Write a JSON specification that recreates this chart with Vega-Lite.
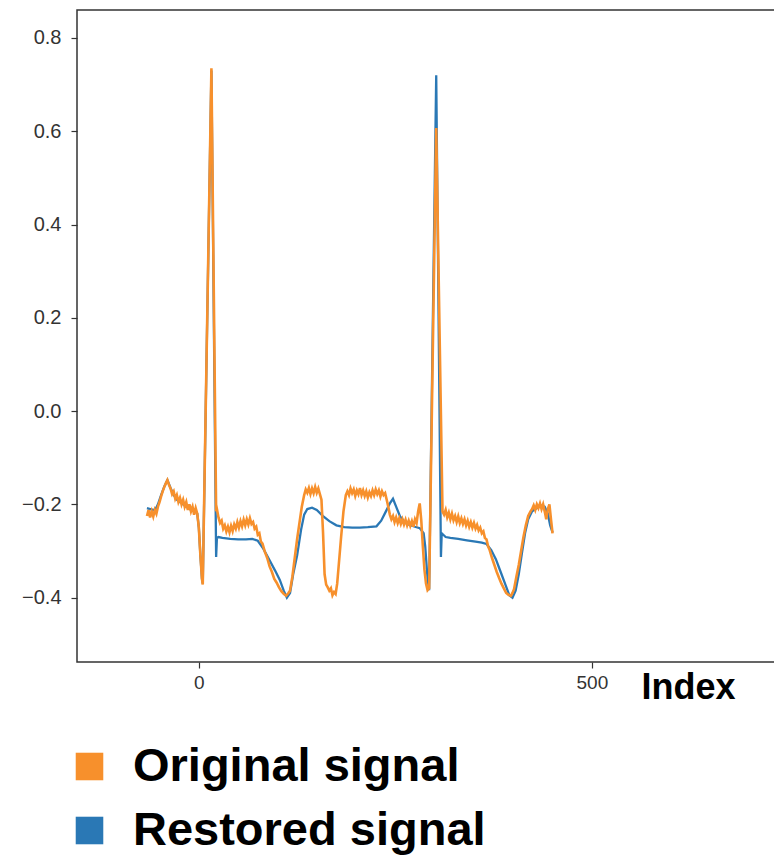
{
  "$schema": "https://vega.github.io/schema/vega-lite/v6.json",
  "autosize": "none",
  "padding": {"left": 77, "top": 10, "right": 0, "bottom": 196},
  "width": 698,
  "height": 652,
  "background": "white",
  "config": {
    "view": {"stroke": "#333333", "strokeWidth": 1.5},
    "axis": {"grid": false, "domain": false, "labelFont": "Liberation Sans", "labelFontSize": 20, "labelColor": "#333333", "tickColor": "#333333", "tickSize": 6, "tickWidth": 1.2}
  },
  "datasets": {
    "orig": [
      {"i":-66,"v":-0.225},{"i":-64,"v":-0.212},{"i":-62,"v":-0.228},{"i":-60,"v":-0.215},{"i":-58,"v":-0.226},{"i":-56,"v":-0.212},{"i":-54,"v":-0.22},{"i":-52,"v":-0.205},{"i":-50,"v":-0.195},{"i":-48,"v":-0.183},{"i":-46,"v":-0.172},{"i":-44,"v":-0.163},{"i":-42,"v":-0.155},{"i":-40,"v":-0.148},{"i":-38,"v":-0.158},{"i":-36,"v":-0.166},{"i":-34,"v":-0.178},{"i":-32,"v":-0.172},{"i":-30,"v":-0.188},{"i":-28,"v":-0.18},{"i":-26,"v":-0.195},{"i":-24,"v":-0.186},{"i":-22,"v":-0.2},{"i":-20,"v":-0.19},{"i":-18,"v":-0.205},{"i":-16,"v":-0.195},{"i":-14,"v":-0.212},{"i":-12,"v":-0.2},{"i":-10,"v":-0.215},{"i":-8,"v":-0.205},{"i":-6,"v":-0.222},{"i":-4,"v":-0.208},{"i":-2,"v":-0.22},{"i":0,"v":-0.25},{"i":2,"v":-0.31},{"i":4,"v":-0.36},{"i":5,"v":-0.372},{"i":16,"v":0.735},{"i":22,"v":-0.215},{"i":23,"v":-0.21},{"i":25,"v":-0.228},{"i":27,"v":-0.24},{"i":29,"v":-0.235},{"i":31,"v":-0.252},{"i":33,"v":-0.245},{"i":35,"v":-0.258},{"i":37,"v":-0.248},{"i":39,"v":-0.26},{"i":41,"v":-0.246},{"i":43,"v":-0.257},{"i":45,"v":-0.243},{"i":47,"v":-0.252},{"i":49,"v":-0.238},{"i":51,"v":-0.25},{"i":53,"v":-0.236},{"i":55,"v":-0.247},{"i":57,"v":-0.233},{"i":59,"v":-0.245},{"i":61,"v":-0.232},{"i":63,"v":-0.243},{"i":65,"v":-0.23},{"i":67,"v":-0.242},{"i":69,"v":-0.238},{"i":71,"v":-0.252},{"i":73,"v":-0.248},{"i":75,"v":-0.265},{"i":77,"v":-0.262},{"i":79,"v":-0.28},{"i":81,"v":-0.284},{"i":84,"v":-0.302},{"i":87,"v":-0.315},{"i":90,"v":-0.333},{"i":93,"v":-0.345},{"i":96,"v":-0.36},{"i":99,"v":-0.368},{"i":102,"v":-0.378},{"i":105,"v":-0.386},{"i":108,"v":-0.392},{"i":111,"v":-0.396},{"i":114,"v":-0.39},{"i":116,"v":-0.385},{"i":119,"v":-0.355},{"i":122,"v":-0.315},{"i":125,"v":-0.275},{"i":128,"v":-0.24},{"i":131,"v":-0.205},{"i":134,"v":-0.18},{"i":136,"v":-0.168},{"i":138,"v":-0.175},{"i":140,"v":-0.165},{"i":142,"v":-0.178},{"i":144,"v":-0.166},{"i":146,"v":-0.176},{"i":148,"v":-0.163},{"i":150,"v":-0.175},{"i":152,"v":-0.166},{"i":154,"v":-0.178},{"i":156,"v":-0.19},{"i":158,"v":-0.26},{"i":160,"v":-0.35},{"i":162,"v":-0.372},{"i":164,"v":-0.378},{"i":166,"v":-0.385},{"i":168,"v":-0.38},{"i":170,"v":-0.395},{"i":172,"v":-0.388},{"i":174,"v":-0.392},{"i":176,"v":-0.37},{"i":178,"v":-0.33},{"i":181,"v":-0.27},{"i":184,"v":-0.215},{"i":187,"v":-0.18},{"i":189,"v":-0.172},{"i":191,"v":-0.18},{"i":193,"v":-0.166},{"i":195,"v":-0.176},{"i":197,"v":-0.168},{"i":199,"v":-0.182},{"i":201,"v":-0.17},{"i":203,"v":-0.178},{"i":205,"v":-0.165},{"i":207,"v":-0.18},{"i":209,"v":-0.17},{"i":211,"v":-0.182},{"i":213,"v":-0.172},{"i":215,"v":-0.185},{"i":217,"v":-0.174},{"i":219,"v":-0.182},{"i":221,"v":-0.17},{"i":223,"v":-0.18},{"i":225,"v":-0.168},{"i":227,"v":-0.178},{"i":229,"v":-0.17},{"i":231,"v":-0.183},{"i":233,"v":-0.172},{"i":235,"v":-0.18},{"i":237,"v":-0.176},{"i":239,"v":-0.19},{"i":241,"v":-0.205},{"i":243,"v":-0.222},{"i":245,"v":-0.232},{"i":247,"v":-0.225},{"i":249,"v":-0.238},{"i":251,"v":-0.228},{"i":253,"v":-0.24},{"i":255,"v":-0.23},{"i":257,"v":-0.242},{"i":259,"v":-0.232},{"i":261,"v":-0.243},{"i":263,"v":-0.233},{"i":265,"v":-0.245},{"i":267,"v":-0.235},{"i":269,"v":-0.246},{"i":271,"v":-0.236},{"i":273,"v":-0.248},{"i":275,"v":-0.232},{"i":277,"v":-0.24},{"i":279,"v":-0.215},{"i":281,"v":-0.198},{"i":283,"v":-0.235},{"i":285,"v":-0.29},{"i":287,"v":-0.34},{"i":289,"v":-0.37},{"i":291,"v":-0.384},{"i":293,"v":-0.38},{"i":302,"v":0.607},{"i":310,"v":-0.215},{"i":312,"v":-0.222},{"i":314,"v":-0.212},{"i":316,"v":-0.228},{"i":318,"v":-0.218},{"i":320,"v":-0.232},{"i":322,"v":-0.22},{"i":324,"v":-0.234},{"i":326,"v":-0.225},{"i":328,"v":-0.238},{"i":330,"v":-0.226},{"i":332,"v":-0.24},{"i":334,"v":-0.23},{"i":336,"v":-0.242},{"i":338,"v":-0.232},{"i":340,"v":-0.245},{"i":342,"v":-0.235},{"i":344,"v":-0.248},{"i":346,"v":-0.238},{"i":348,"v":-0.25},{"i":350,"v":-0.24},{"i":352,"v":-0.252},{"i":354,"v":-0.244},{"i":356,"v":-0.256},{"i":358,"v":-0.25},{"i":360,"v":-0.262},{"i":362,"v":-0.258},{"i":364,"v":-0.272},{"i":366,"v":-0.275},{"i":368,"v":-0.29},{"i":370,"v":-0.298},{"i":373,"v":-0.315},{"i":376,"v":-0.33},{"i":379,"v":-0.345},{"i":382,"v":-0.358},{"i":385,"v":-0.37},{"i":388,"v":-0.38},{"i":391,"v":-0.39},{"i":394,"v":-0.394},{"i":397,"v":-0.396},{"i":399,"v":-0.39},{"i":401,"v":-0.382},{"i":404,"v":-0.355},{"i":407,"v":-0.33},{"i":410,"v":-0.3},{"i":413,"v":-0.27},{"i":416,"v":-0.245},{"i":419,"v":-0.225},{"i":422,"v":-0.215},{"i":424,"v":-0.21},{"i":426,"v":-0.202},{"i":428,"v":-0.212},{"i":430,"v":-0.2},{"i":432,"v":-0.208},{"i":434,"v":-0.198},{"i":436,"v":-0.21},{"i":438,"v":-0.2},{"i":440,"v":-0.215},{"i":442,"v":-0.232},{"i":444,"v":-0.21},{"i":446,"v":-0.2},{"i":448,"v":-0.232},{"i":450,"v":-0.262}
    ],
    "rest": [
      {"i":-66,"v":-0.208},{"i":-62,"v":-0.21},{"i":-58,"v":-0.212},{"i":-55,"v":-0.21},{"i":-52,"v":-0.2},{"i":-48,"v":-0.18},{"i":-44,"v":-0.162},{"i":-40,"v":-0.148},{"i":-36,"v":-0.165},{"i":-32,"v":-0.18},{"i":-28,"v":-0.19},{"i":-24,"v":-0.195},{"i":-20,"v":-0.2},{"i":-16,"v":-0.205},{"i":-12,"v":-0.21},{"i":-8,"v":-0.213},{"i":-4,"v":-0.215},{"i":-2,"v":-0.22},{"i":0,"v":-0.25},{"i":2,"v":-0.31},{"i":4,"v":-0.36},{"i":5,"v":-0.37},{"i":16,"v":0.73},{"i":22,"v":-0.313},{"i":23,"v":-0.272},{"i":25,"v":-0.27},{"i":30,"v":-0.272},{"i":40,"v":-0.274},{"i":50,"v":-0.275},{"i":60,"v":-0.275},{"i":68,"v":-0.274},{"i":75,"v":-0.278},{"i":82,"v":-0.295},{"i":90,"v":-0.32},{"i":97,"v":-0.342},{"i":103,"v":-0.362},{"i":108,"v":-0.385},{"i":112,"v":-0.4},{"i":116,"v":-0.39},{"i":120,"v":-0.35},{"i":125,"v":-0.31},{"i":130,"v":-0.255},{"i":134,"v":-0.222},{"i":138,"v":-0.21},{"i":144,"v":-0.207},{"i":150,"v":-0.212},{"i":158,"v":-0.225},{"i":166,"v":-0.236},{"i":175,"v":-0.245},{"i":185,"v":-0.249},{"i":195,"v":-0.25},{"i":205,"v":-0.25},{"i":215,"v":-0.249},{"i":226,"v":-0.247},{"i":232,"v":-0.235},{"i":238,"v":-0.215},{"i":243,"v":-0.198},{"i":247,"v":-0.188},{"i":251,"v":-0.205},{"i":256,"v":-0.226},{"i":262,"v":-0.238},{"i":268,"v":-0.244},{"i":275,"v":-0.248},{"i":281,"v":-0.251},{"i":286,"v":-0.262},{"i":288,"v":-0.29},{"i":291,"v":-0.36},{"i":293,"v":-0.384},{"i":302,"v":0.72},{"i":308,"v":-0.313},{"i":309,"v":-0.262},{"i":314,"v":-0.27},{"i":320,"v":-0.272},{"i":330,"v":-0.274},{"i":341,"v":-0.277},{"i":352,"v":-0.28},{"i":360,"v":-0.282},{"i":366,"v":-0.285},{"i":372,"v":-0.298},{"i":378,"v":-0.318},{"i":384,"v":-0.345},{"i":390,"v":-0.372},{"i":395,"v":-0.395},{"i":399,"v":-0.4},{"i":403,"v":-0.385},{"i":407,"v":-0.35},{"i":411,"v":-0.305},{"i":415,"v":-0.262},{"i":419,"v":-0.232},{"i":424,"v":-0.215},{"i":430,"v":-0.208},{"i":436,"v":-0.203},{"i":440,"v":-0.205},{"i":444,"v":-0.22},{"i":447,"v":-0.245},{"i":450,"v":-0.26}
    ]
  },
  "encoding": {
    "x": {
      "field": "i", "type": "quantitative",
      "scale": {"domain": [-155, 733], "nice": false, "zero": false},
      "axis": {"values": [0, 500], "labelFontSize": 19, "labelPadding": 5, "title": "Index", "titleFont": "Liberation Sans", "titleFontSize": 36, "titleFontWeight": "bold", "titleColor": "#000000", "titleAlign": "left", "titleBaseline": "alphabetic", "titleAnchor": "start", "titleX": 564, "titleY": 36}
    },
    "y": {
      "field": "v", "type": "quantitative",
      "scale": {"domain": [-0.538, 0.86], "nice": false, "zero": false},
      "axis": {"values": [-0.4, -0.2, 0, 0.2, 0.4, 0.6, 0.8], "format": ".1f", "title": null, "labelPadding": 10}
    },
    "color": {
      "datum": "Restored signal",
      "type": "nominal",
      "scale": {"domain": ["Original signal", "Restored signal"], "range": ["#f7902c", "#2a78b5"]},
      "legend": {
        "orient": "none", "legendX": -11, "legendY": 733, "padding": 0, "title": null, "direction": "vertical",
        "symbolType": "square", "symbolSize": 760, "symbolStrokeWidth": 0, "symbolOffset": 0,
        "labelFont": "Liberation Sans", "labelFontSize": 47, "labelFontWeight": "bold", "labelColor": "#000000",
        "labelLimit": 0, "labelOffset": 20, "rowPadding": 16,
        "encode": {"symbols": {"update": {"fill": {"scale": "color", "field": "value"}, "stroke": {"value": "transparent"}, "opacity": {"value": 1}}}}
      }
    }
  },
  "layer": [
    {
      "data": {"name": "rest"},
      "mark": {"type": "line", "strokeWidth": 2.3, "clip": true},
      "encoding": {"color": {"datum": "Restored signal", "type": "nominal"}}
    },
    {
      "data": {"name": "orig"},
      "mark": {"type": "line", "strokeWidth": 2.6, "clip": true},
      "encoding": {"color": {"datum": "Original signal", "type": "nominal"}}
    }
  ]
}
